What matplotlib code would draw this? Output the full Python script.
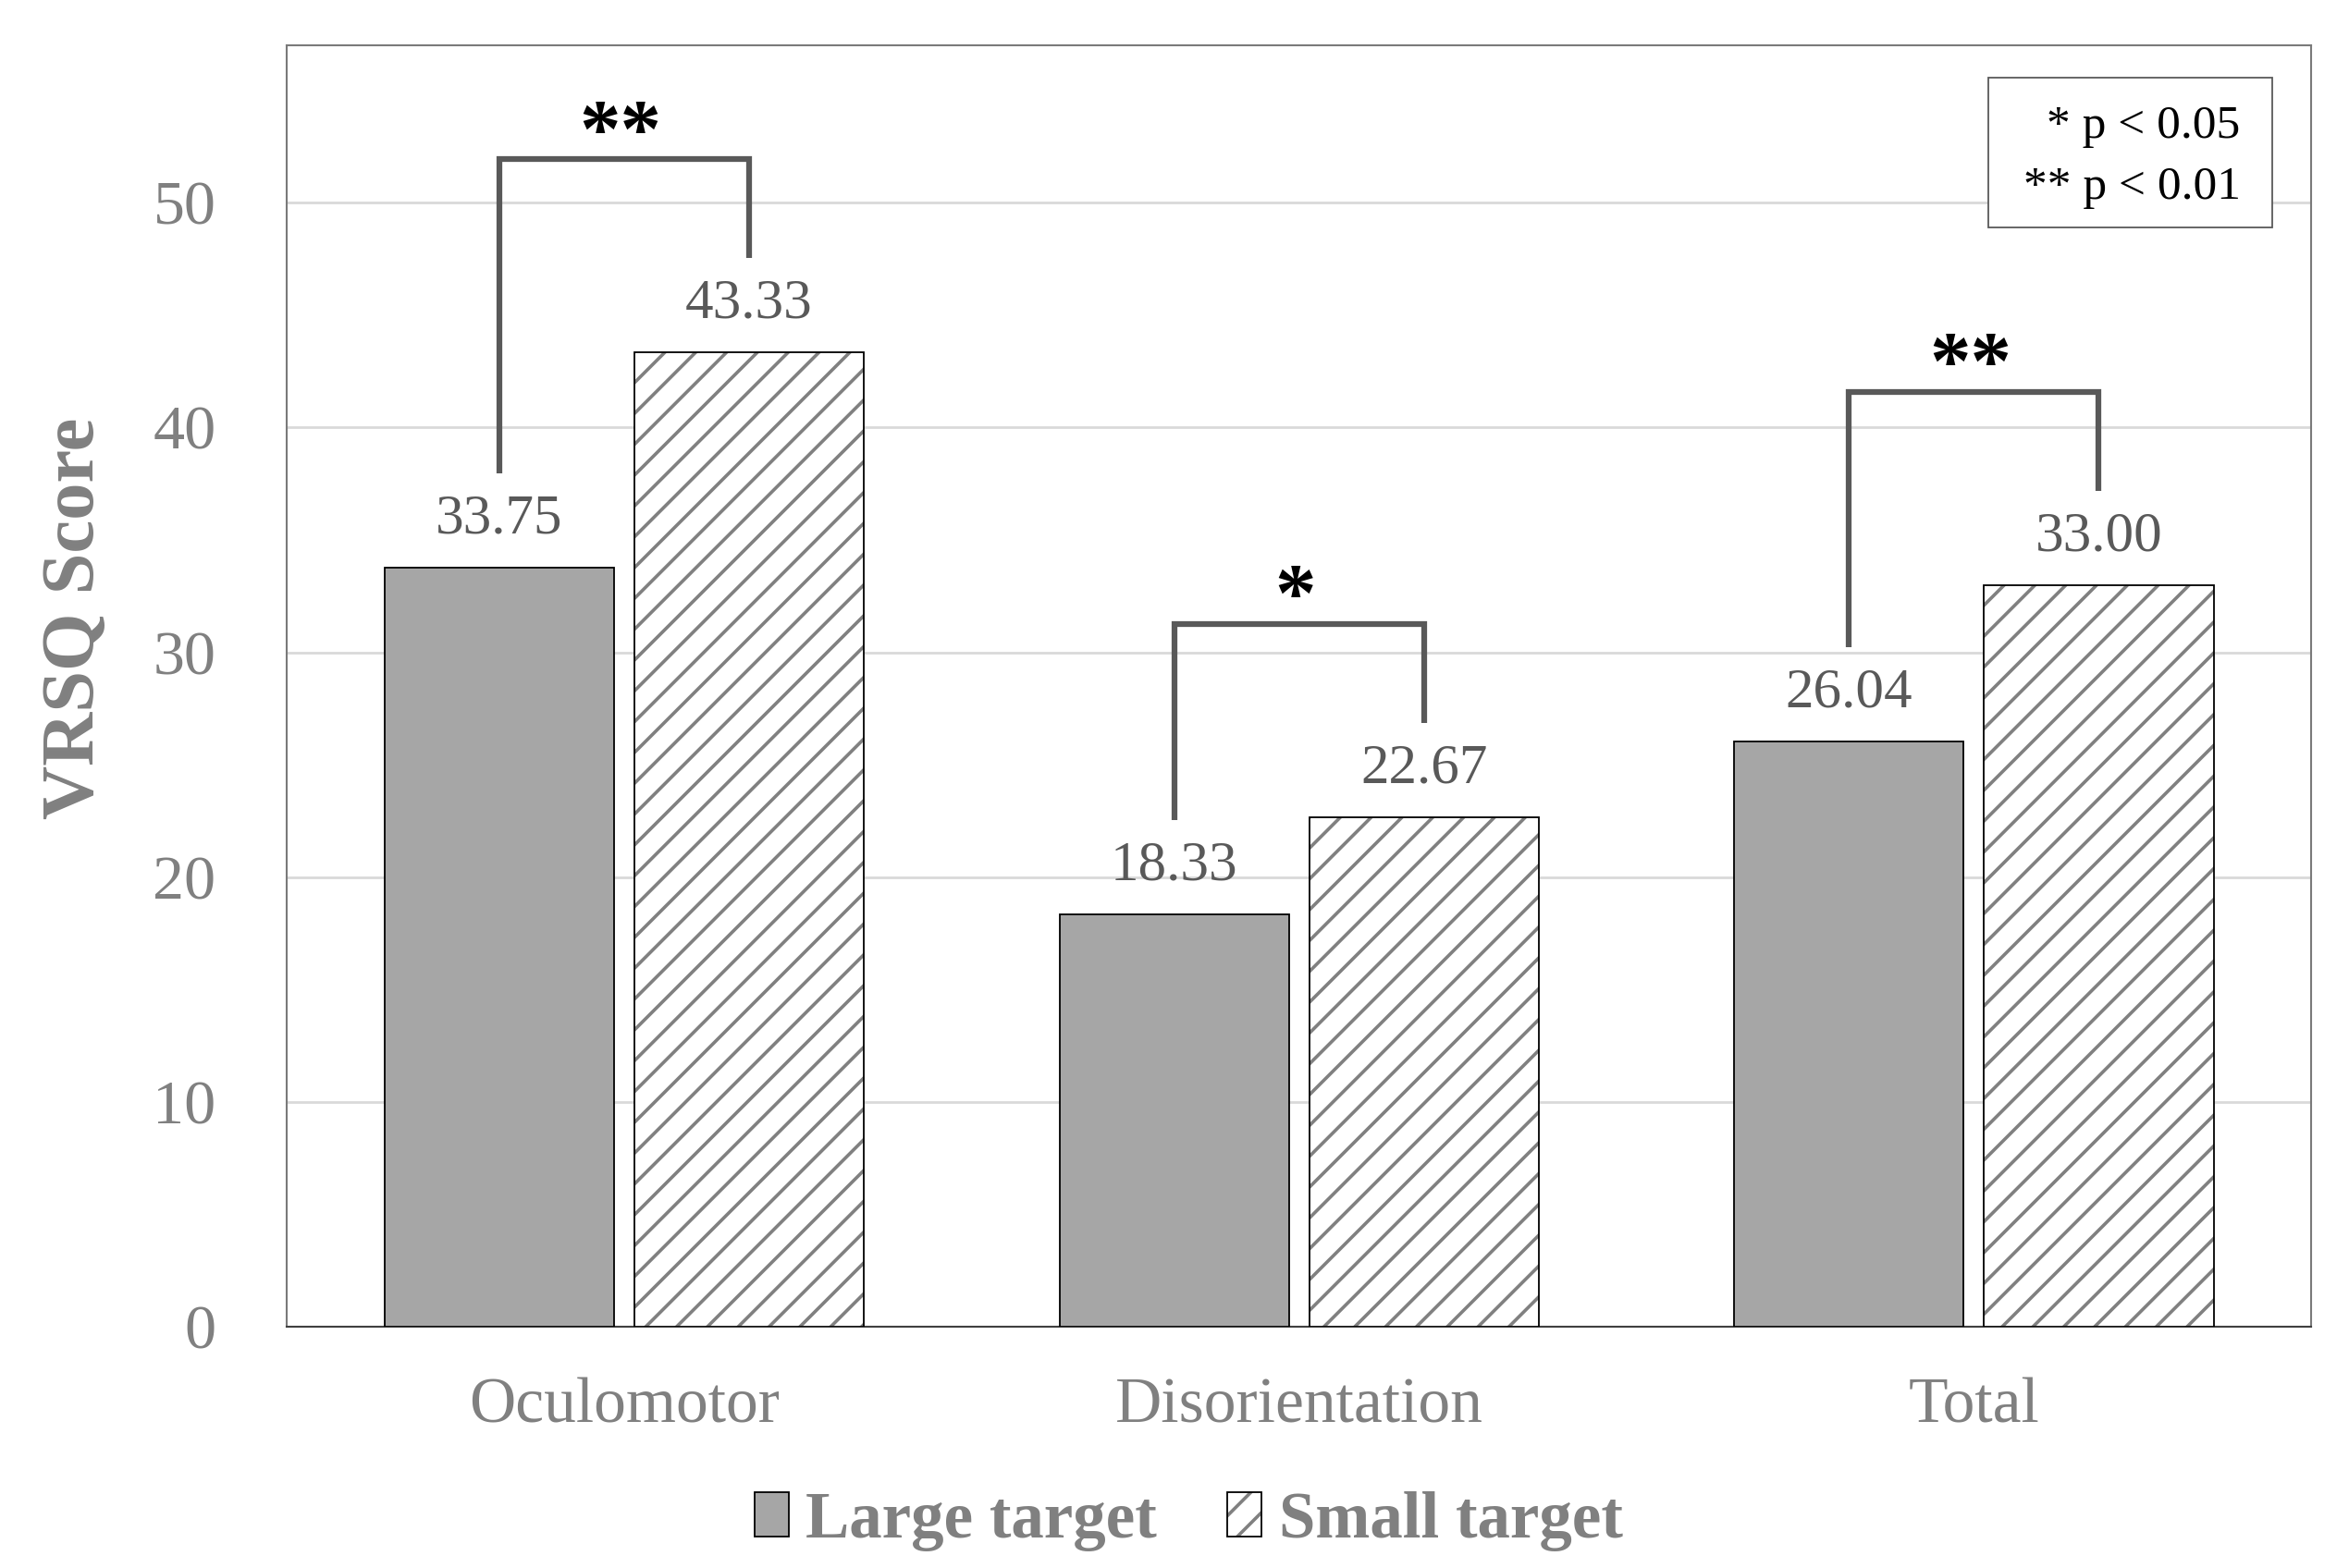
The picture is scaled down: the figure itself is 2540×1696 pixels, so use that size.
import matplotlib.pyplot as plt
import numpy as np
from matplotlib.patches import Rectangle, Patch

plt.rcParams['font.family'] = ['Liberation Serif', 'DejaVu Serif']
plt.rcParams['hatch.linewidth'] = 2.6

# data
categories = ['Oculomotor', 'Disorientation', 'Total']
large = [33.75, 18.33, 26.04]
small = [43.33, 22.67, 33.00]
sig = ['**', '*', '**']
series_names = ['Large target', 'Small target']

# style
grey_txt = '#808080'
val_txt = '#595959'
hatch_col = '#808080'
w = 0.34
off = 0.185

fig = plt.figure(figsize=(25.4, 16.96), dpi=100)
ax = fig.add_axes([0.122, 0.154, 0.862, 0.817])

x = np.arange(len(categories))
ax.bar(x - off, large, w, color='#a6a6a6', edgecolor='black', lw=1.3, zorder=3)
# hatched fill first (hatch takes the edge colour), black outline on top
ax.bar(x + off, small, w, color='white', edgecolor=hatch_col, lw=0,
       hatch='/', zorder=3)
ax.bar(x + off, small, w, fill=False, edgecolor='black', lw=1.3, zorder=3)

# value labels
for xi, v in zip(x - off, large):
    ax.text(xi, v + 2.15, f'{v:.2f}', ha='center', va='center',
            fontsize=44, color=val_txt)
for xi, v in zip(x + off, small):
    ax.text(xi, v + 2.15, f'{v:.2f}', ha='center', va='center',
            fontsize=44, color=val_txt)

# significance brackets
for i in range(len(categories)):
    top = max(large[i], small[i]) + 8.6
    ax.plot([x[i] - off, x[i] - off, x[i] + off, x[i] + off],
            [large[i] + 4.2, top, top, small[i] + 4.2],
            color='#595959', lw=4.5, solid_capstyle='butt',
            solid_joinstyle='miter', zorder=4)
    ax.text(x[i] - 0.005, top + 0.2, sig[i], ha='center', va='baseline',
            fontsize=64, fontweight='bold', color='black')

ax.set_xlim(-0.5, 2.5)
ax.set_ylim(0, 57)
ax.set_yticks(np.arange(0, 51, 10))
ax.set_xticks(x)
ax.set_xticklabels(categories)
ax.tick_params(axis='x', length=0, pad=40, labelsize=50, labelcolor=grey_txt)
ax.tick_params(axis='y', length=0, pad=55, labelsize=49, labelcolor=grey_txt)
ax.grid(axis='y', color='#d9d9d9', lw=2, zorder=0)
ax.set_axisbelow(True)
for s in ax.spines.values():
    s.set_color('#7a7a7a')
    s.set_linewidth(1.5)
ax.spines['bottom'].set_color('#404040')

ax.set_ylabel('VRSQ Score', fontsize=58, fontweight='bold', color=grey_txt)
ax.yaxis.set_label_coords(-0.0877, 0.553)

# p-value key box
ax.add_patch(Rectangle((0.8406, 0.858), 0.140, 0.117, transform=ax.transAxes,
                       facecolor='white', edgecolor='#595959', lw=1.3, zorder=5))
ax.text(0.965, 0.937, '* p < 0.05', transform=ax.transAxes, ha='right',
        va='center', fontsize=37, color='black', zorder=6)
ax.text(0.965, 0.889, '** p < 0.01', transform=ax.transAxes, ha='right',
        va='center', fontsize=37, color='black', zorder=6)

h_large = Patch(facecolor='#a6a6a6', edgecolor='black', lw=1.3)
h_small = (Patch(facecolor='white', edgecolor=hatch_col, lw=0, hatch='/'),
           Patch(fill=False, edgecolor='black', lw=1.3))
leg = fig.legend(handles=[h_large, h_small], labels=series_names,
                 loc='center', bbox_to_anchor=(0.506, 0.030),
                 ncol=2, frameon=False, handlelength=0.52, handleheight=0.67,
                 handletextpad=0.26, columnspacing=1.08,
                 prop={'size': 51, 'weight': 'bold'})
for t in leg.get_texts():
    t.set_color(grey_txt)

fig.savefig('out.png', dpi=100)
